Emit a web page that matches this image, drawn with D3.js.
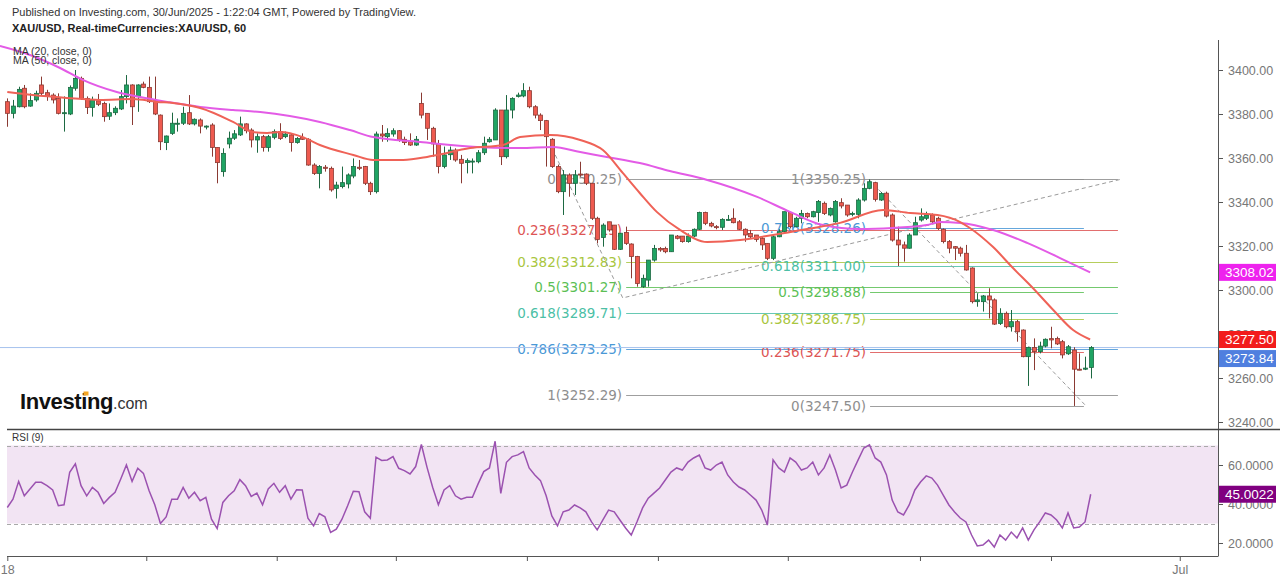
<!DOCTYPE html>
<html>
<head>
<meta charset="utf-8">
<title>XAU/USD, 60</title>
<script src="https://cdnjs.cloudflare.com/ajax/libs/d3/7.8.5/d3.min.js"></script>
<style>
body { margin: 0; background: #fff; }
svg { display: block; font-family: "Liberation Sans", Arial, sans-serif; }
.fib { font-family: "DejaVu Sans", Verdana, sans-serif; font-size: 13.5px; }
.axis text { fill: #777; font-size: 12.5px; font-family: "Liberation Sans", Arial, sans-serif; }
.axis line { stroke: #555; }
.tag { fill: #fff; font-size: 13.5px; }
</style>
</head>
<body>
<div id="chart"></div>
<script>

// hourly candles, [open, high, low, close]
var candles = [
[3385.6,3387.1,3374.2,3380.3],[3380.3,3386.4,3378.0,3383.6],[3383.3,3392.4,3383.0,3391.2],[3391.7,3393.2,3382.6,3383.3],
[3383.6,3389.4,3383.3,3386.1],[3386.4,3390.6,3385.6,3389.4],[3393.2,3397.0,3388.6,3389.4],[3389.7,3391.0,3386.0,3388.2],
[3388.6,3389.4,3384.8,3386.4],[3387.1,3389.4,3379.8,3380.3],[3380.3,3388.0,3372.0,3380.6],[3380.0,3393.0,3379.5,3392.1],
[3391.7,3400.0,3390.6,3396.2],[3396.2,3397.0,3386.4,3387.1],[3387.1,3388.0,3380.0,3383.0],[3383.0,3387.9,3378.8,3386.4],
[3386.0,3389.1,3383.6,3384.4],[3384.8,3385.6,3376.5,3378.8],[3379.0,3384.8,3377.3,3380.6],[3380.6,3383.5,3379.5,3382.6],
[3382.3,3390.9,3381.8,3387.9],[3387.9,3397.7,3384.8,3393.2],[3393.2,3393.5,3375.0,3383.3],[3387.9,3393.5,3381.0,3393.2],
[3393.6,3394.7,3391.7,3392.1],[3392.1,3397.0,3385.0,3385.6],[3386.0,3397.0,3379.5,3380.0],[3379.5,3379.8,3363.6,3367.4],
[3367.0,3370.2,3363.6,3370.0],[3371.2,3380.6,3370.5,3375.8],[3375.5,3378.0,3372.0,3375.8],[3375.8,3383.3,3375.0,3380.3],
[3380.6,3388.6,3375.0,3375.5],[3375.5,3378.0,3374.8,3377.6],[3377.3,3378.0,3371.2,3374.5],[3374.2,3374.8,3373.0,3374.5],
[3375.0,3375.8,3360.6,3364.8],[3364.8,3364.8,3348.5,3357.9],[3353.8,3364.4,3351.5,3362.1],[3366.4,3372.0,3364.4,3369.0],
[3369.0,3372.7,3368.2,3371.0],[3370.5,3378.8,3370.0,3375.5],[3375.5,3375.8,3371.2,3372.4],[3372.7,3373.5,3364.8,3368.2],
[3368.2,3371.2,3362.4,3369.7],[3369.7,3370.5,3362.9,3364.8],[3364.8,3370.5,3362.9,3369.7],[3369.4,3373.0,3368.5,3372.0],
[3372.0,3375.8,3368.2,3368.9],[3369.7,3372.0,3369.0,3370.9],[3370.5,3371.2,3362.9,3367.0],[3367.0,3369.5,3366.5,3368.9],
[3369.4,3371.2,3368.2,3368.5],[3368.5,3369.0,3356.5,3356.8],[3356.8,3357.6,3352.3,3353.0],[3353.0,3356.8,3346.2,3356.1],
[3355.8,3356.8,3353.8,3355.3],[3355.3,3356.1,3344.7,3345.5],[3346.2,3349.2,3341.6,3347.7],[3347.0,3356.1,3346.2,3348.8],
[3348.2,3353.0,3346.2,3352.3],[3351.8,3359.8,3350.8,3356.1],[3355.8,3359.1,3354.5,3355.3],[3356.1,3356.4,3347.7,3348.5],
[3348.5,3349.2,3343.2,3344.7],[3344.7,3372.0,3343.9,3370.9],[3370.9,3375.0,3367.4,3370.0],[3369.7,3373.5,3367.4,3371.2],
[3370.9,3373.5,3369.7,3372.4],[3372.4,3372.7,3367.4,3368.2],[3368.5,3369.7,3365.9,3367.0],[3367.4,3371.2,3365.5,3365.9],
[3365.9,3370.0,3365.5,3368.5],[3384.8,3389.7,3378.0,3379.5],[3380.3,3380.3,3368.2,3373.5],[3373.5,3374.2,3360.6,3366.4],
[3366.4,3368.2,3353.0,3356.1],[3356.1,3365.2,3355.3,3361.4],[3361.5,3365.2,3359.1,3363.6],[3363.6,3364.4,3358.3,3359.1],
[3359.4,3361.4,3348.5,3357.6],[3357.9,3359.8,3353.0,3358.8],[3358.2,3359.8,3353.0,3358.6],[3358.3,3363.6,3357.6,3362.4],
[3362.4,3369.7,3361.4,3366.7],[3367.4,3369.5,3367.0,3368.5],[3368.2,3382.6,3368.2,3381.8],[3381.8,3381.8,3356.8,3360.6],
[3360.6,3388.6,3359.8,3381.8],[3381.8,3387.6,3378.0,3387.1],[3388.0,3389.7,3387.5,3388.6],[3388.2,3394.0,3387.6,3390.6],
[3390.6,3392.4,3382.6,3383.3],[3383.3,3384.0,3378.0,3379.5],[3379.5,3380.3,3372.7,3377.0],[3377.0,3377.3,3356.1,3369.7],
[3368.5,3369.0,3355.5,3356.1],[3356.1,3357.0,3344.0,3344.7],[3344.7,3354.5,3334.1,3352.3],[3352.3,3353.0,3342.4,3348.5],
[3348.5,3354.5,3343.2,3352.3],[3352.7,3358.3,3351.5,3352.3],[3352.7,3353.0,3347.7,3348.5],[3348.5,3348.5,3331.8,3332.6],
[3332.6,3333.3,3321.2,3323.0],[3323.9,3330.3,3319.7,3329.5],[3331.0,3331.0,3326.5,3327.3],[3329.5,3329.5,3318.2,3318.5],
[3318.5,3326.0,3318.2,3325.8],[3326.1,3328.8,3320.5,3321.2],[3320.9,3321.2,3305.3,3315.2],[3315.2,3315.5,3301.5,3303.0],
[3301.5,3307.0,3301.0,3305.3],[3304.5,3313.6,3301.5,3313.6],[3313.6,3320.5,3312.9,3318.9],[3318.9,3319.5,3317.4,3318.2],
[3318.9,3319.7,3316.7,3317.4],[3317.4,3325.0,3317.4,3325.0],[3324.5,3325.0,3323.0,3323.5],[3324.5,3324.5,3321.5,3322.0],
[3322.0,3325.7,3321.5,3324.5],[3324.5,3328.0,3324.0,3327.6],[3327.6,3335.6,3327.3,3335.2],[3335.2,3335.6,3329.5,3330.3],
[3330.3,3331.0,3328.5,3329.1],[3328.8,3329.5,3327.6,3328.5],[3328.5,3332.6,3327.3,3332.1],[3331.8,3334.1,3331.5,3332.1],
[3332.6,3337.1,3330.3,3330.6],[3331.0,3331.8,3327.3,3327.6],[3327.6,3328.0,3321.9,3325.0],[3325.7,3327.3,3323.5,3324.2],
[3325.0,3325.0,3321.9,3323.0],[3323.5,3324.2,3318.2,3320.5],[3321.2,3321.2,3313.6,3314.4],[3314.4,3325.0,3313.6,3324.2],
[3324.2,3327.6,3324.0,3326.5],[3326.5,3335.6,3326.1,3335.6],[3335.2,3335.6,3328.0,3328.8],[3328.8,3333.3,3328.5,3332.6],
[3332.6,3336.4,3330.3,3334.8],[3334.8,3335.2,3332.6,3333.3],[3333.3,3336.0,3333.0,3335.6],[3335.2,3340.9,3331.0,3340.2],
[3339.4,3340.2,3334.1,3334.8],[3334.1,3337.5,3333.5,3337.1],[3331.0,3340.9,3330.6,3340.2],[3339.7,3341.7,3337.1,3338.2],
[3338.6,3338.6,3333.3,3334.1],[3334.4,3335.6,3333.5,3334.8],[3334.4,3341.7,3332.6,3340.9],[3340.9,3348.5,3340.2,3346.2],
[3346.2,3350.3,3345.8,3349.2],[3348.8,3349.2,3340.2,3341.2],[3340.9,3344.5,3340.5,3343.9],[3344.0,3344.7,3333.0,3333.6],
[3334.1,3334.8,3322.0,3322.7],[3322.7,3328.8,3310.9,3320.5],[3320.5,3322.0,3312.9,3319.0],[3319.0,3325.8,3318.8,3325.0],
[3325.0,3333.3,3325.0,3330.6],[3331.8,3337.1,3331.1,3333.3],[3332.6,3335.6,3331.8,3334.1],[3334.1,3334.8,3330.3,3331.0],
[3332.6,3333.3,3327.3,3328.0],[3327.6,3328.0,3321.2,3322.0],[3322.0,3322.7,3316.7,3319.0],[3319.7,3320.0,3313.6,3319.0],
[3319.0,3319.7,3315.2,3316.7],[3316.7,3320.5,3308.8,3309.1],[3310.0,3310.3,3293.9,3294.7],[3294.7,3298.5,3292.4,3295.5],
[3294.7,3297.7,3290.2,3297.3],[3297.3,3300.8,3287.1,3295.5],[3295.5,3296.2,3284.1,3284.5],[3284.8,3291.7,3284.1,3289.4],
[3289.4,3290.2,3282.6,3283.3],[3283.3,3290.9,3281.1,3285.6],[3285.6,3286.4,3276.5,3281.0],[3281.8,3282.1,3269.4,3269.7],
[3269.7,3274.2,3256.4,3273.9],[3273.9,3278.0,3263.6,3272.0],[3272.0,3276.5,3271.2,3274.5],[3274.5,3278.0,3273.9,3277.6],
[3277.9,3283.3,3273.5,3277.3],[3278.0,3278.8,3275.0,3275.5],[3276.5,3277.3,3268.9,3270.5],[3271.0,3275.0,3270.5,3274.2],
[3272.7,3274.0,3247.3,3264.0],[3264.0,3271.2,3263.5,3263.8],[3264.0,3269.7,3263.6,3264.5],[3264.8,3274.5,3259.8,3273.84]
];

// moving averages as [candle index, price]
var ma20 = [[0,3390],[4.5,3388.6],[10.5,3387.3],[16.3,3386.4],[22.2,3386.8],[26.4,3385.5],[29.2,3385],[34,3382.7],
  [39.8,3376.4],[43.3,3371.8],[45.8,3371.4],[48.1,3371.8],[52.1,3369.5],[55.1,3365.9],[61,3361.4],[64.5,3359.1],
  [69.8,3359.1],[74,3360.5],[75.8,3361.4],[81.6,3364.5],[87.4,3365.9],[90.4,3369.5],[95.7,3370.5],[101,3368.2],
  [105,3363.6],[108.5,3353.2],[111.5,3344.1],[114.5,3335.5],[118.6,3327.3],[123.4,3321.8],[129.2,3322.7],[135,3325],
  [141,3327.7],[146.8,3330.5],[154.4,3336.4],[159.2,3335],[164,3334.1],[168,3330.9],[169.7,3328.2],[173.8,3319.5],
  [177.3,3310],[180.8,3300.9],[184.4,3290.9],[187.9,3281.8],[190.9,3277.5]];
var ma50 = [[-1.3,3410.9],[4,3406.8],[9.3,3400.9],[13.3,3395.5],[19.3,3390],[23.4,3387.7],[28.2,3385.5],[34,3383.2],
  [39.8,3381.8],[44.6,3380.9],[49.8,3379.1],[55.1,3376.4],[60.4,3372.7],[64.5,3369.5],[72.8,3367.3],[82.8,3365],
  [90.4,3364.5],[96.2,3365],[101,3362.7],[105.7,3360.5],[111.5,3357.7],[116.8,3354.1],[123.4,3350],[132.2,3342.3],
  [138,3335.5],[143.8,3329.5],[150.3,3327.7],[156.1,3328.2],[162.1,3329.5],[164.4,3330.9],[168,3330.5],[173.8,3327.3],
  [179.8,3321.4],[185.6,3314.5],[190.9,3308.02]];

// RSI (9), one value per candle
var rsi = [38.2,42.5,51.6,44.2,47.7,51.1,51.1,49.4,47.2,39.1,39.6,56.3,60.6,49.4,44.2,48.5,46,40.3,43.4,46,
  52.8,60,51.6,58.3,55.7,46.8,39.6,30,33.4,42.5,42.5,48.5,43,46,41.7,43.4,32.2,27.4,40.8,44.2,
  46.8,52.5,49.4,43.9,45.6,39.6,47.7,50.6,46,49.4,42.5,47.3,47.2,32.7,28.8,35.1,33.4,25.4,27.1,32.2,
  39.1,46.5,46.3,36,32.7,64,62.3,62.6,64.3,58.3,57.1,55.4,59.2,70.5,58.8,48.5,39.6,47.2,49.4,44.2,
  42.5,43.4,43.4,50.3,56.6,58.5,72.2,45.4,61.4,64.3,65.2,66.9,58.5,54.9,52,44.2,33.9,28.8,36,
  36.9,39.5,38,36,30.8,26.7,31.8,36.9,36,31.8,27.7,24.1,30.8,38,43,45.6,48.2,52.3,56.4,58.5,
  57.4,61.5,63.6,65.1,58.5,57.4,60,61.5,54.9,51.3,48.7,47.2,44.6,42,36.9,29.2,62.6,58.5,56.4,63.6,
  61.5,57.4,58.5,61.5,54.9,58.5,65.1,57.4,48.2,49.7,56.4,62.6,68.7,70.3,63.6,61.5,54.9,42,35.9,34.4,
  39.5,47.2,51.3,54.4,53.3,49.7,44.6,39.5,35.9,32.8,30.8,24.1,18.5,19,21.5,17.9,24.1,21.5,25.6,22.6,
  27.7,21.5,26.7,30.8,35.4,34.4,31.8,27.7,35.4,27.7,28.2,30.8,45.0022];

// fibonacci drawings
var fib1Names = ["0", "0.236", "0.382", "0.5", "0.618", "0.786", "1"];
var fib1Prices = [3350.25, 3327.13, 3312.83, 3301.27, 3289.71, 3273.25, 3252.29];
var fib1Span = [109.1, 195.8];
var fib2Names = ["1", "0.786", "0.618", "0.5", "0.382", "0.236", "0"];
var fib2Prices = [3350.25, 3328.26, 3311.00, 3298.88, 3286.75, 3271.75, 3247.50];
var fib2Span = [152.1, 189.8];
var trend1 = [[96.6, 3361.4], [108.5, 3296.4], [196.2, 3350.25]];
var trend2 = [[151.9, 3350.25], [190.1, 3247.5]];

var priceTicks = [3240, 3260, 3280, 3300, 3320, 3340, 3360, 3380, 3400];
var rsiTicks = [20, 40, 60];
var rsiBand = [30, 70];
var timeTicks = [0, 24.5, 47.5, 68.5, 91.6, 114.7, 137.6, 160.9, 184, 206.7];
var timeLabels = ["18", "", "", "", "", "", "", "", "", "Jul"];
var lastPrice = 3273.84;
var tagValues = [3308.02, 3277.50, 3273.84];
var rsiLast = 45.0022;

// colours
var fibColors = { "0": "#8e8e8e", "1": "#8e8e8e", "0.236": "#dd5555", "0.382": "#a9c640",
  "0.5": "#5cbf55", "0.618": "#4cbfa6", "0.786": "#4a98d6" };
var upFill = "#1fa463", upLine = "#1d6942";
var downFill = "#ee5a4f", downLine = "#8a3a33";
var tagColors = ["#ee22ee", "#f21c1c", "#4f7fdf"];

var width = 1280, height = 580, axisX = 1218;

var svg = d3.select("#chart").append("svg").attr("width", width).attr("height", height);

var x = d3.scaleLinear().domain([0, candles.length - 1]).range([7.3, 1090.7]);
var y = d3.scaleLinear().domain([3240, 3400]).range([422, 70]);
var ry = d3.scaleLinear().domain([20, 60]).range([543, 465]);

/*** header ***/
svg.append("text").attr("x", 12).attr("y", 16).attr("font-size", 11).attr("fill", "#333")
  .text("Published on Investing.com, 30/Jun/2025 - 1:22:04 GMT, Powered by TradingView.");
svg.append("text").attr("x", 12).attr("y", 32).attr("font-size", 11).attr("font-weight", "bold").attr("fill", "#222")
  .text("XAU/USD, Real-timeCurrencies:XAU/USD, 60");

/*** main panel ***/
svg.append("clipPath").attr("id", "mainClip").append("rect")
  .attr("x", 0).attr("y", 40).attr("width", axisX).attr("height", 389);
var main = svg.append("g").attr("clip-path", "url(#mainClip)");

// logo
var logo = svg.append("text").attr("x", 20).attr("y", 409);
logo.append("tspan").attr("font-size", 22).attr("font-weight", "bold").attr("fill", "#111")
  .attr("letter-spacing", -0.4).text("Investing");
logo.append("tspan").attr("font-size", 16).attr("fill", "#333").text(".com");
svg.append("rect").attr("x", 83.5).attr("y", 391.5).attr("width", 5).attr("height", 4).attr("fill", "#f5a623");

// fib levels (under the candles)
function drawFib(names, prices, span) {
  prices.forEach(function (p, k) {
    var c = fibColors[names[k]];
    var yy = Math.round(y(p)) + 0.5;
    main.append("line").attr("x1", x(span[0])).attr("x2", x(span[1]))
      .attr("y1", yy).attr("y2", yy).attr("stroke", c).attr("stroke-opacity", 0.85);
    main.append("text").attr("class", "fib").attr("x", x(span[0]) - 4).attr("y", y(p))
      .attr("text-anchor", "end").attr("dominant-baseline", "central").attr("fill", c)
      .text(names[k] + "(" + p.toFixed(2) + ")");
  });
}
drawFib(fib1Names, fib1Prices, fib1Span);
drawFib(fib2Names, fib2Prices, fib2Span);

var trendLine = d3.line().x(function (d) { return x(d[0]); }).y(function (d) { return y(d[1]); });
[trend1, trend2].forEach(function (t) {
  main.append("path").attr("d", trendLine(t)).attr("fill", "none")
    .attr("stroke", "#9a9a9a").attr("stroke-dasharray", "4,3");
});

// last price line
main.append("line").attr("x1", 0).attr("x2", axisX)
  .attr("y1", y(lastPrice)).attr("y2", y(lastPrice))
  .attr("stroke", "#a6c3ee").attr("stroke-width", 1);

// candles
var cg = main.append("g").selectAll("g").data(candles).join("g");
cg.append("line")
  .attr("x1", function (d, i) { return Math.round(x(i)) + 0.5; })
  .attr("x2", function (d, i) { return Math.round(x(i)) + 0.5; })
  .attr("y1", function (d) { return y(d[1]); })
  .attr("y2", function (d) { return y(d[2]); })
  .attr("stroke", function (d) { return d[3] >= d[0] ? upLine : downLine; });
cg.append("rect")
  .attr("x", function (d, i) { return Math.round(x(i)) - 1.5; })
  .attr("width", 4)
  .attr("y", function (d) { return y(Math.max(d[0], d[3])); })
  .attr("height", function (d) { return Math.max(1, Math.abs(y(d[0]) - y(d[3]))); })
  .attr("fill", function (d) { return d[3] >= d[0] ? upFill : downFill; })
  .attr("stroke", function (d) { return d[3] >= d[0] ? upLine : downLine; })
  .attr("stroke-width", 0.8);

// moving averages
var maLine = d3.line().curve(d3.curveMonotoneX)
  .x(function (d) { return x(d[0]); }).y(function (d) { return y(d[1]); });
main.append("path").attr("d", maLine(ma50)).attr("fill", "none")
  .attr("stroke", "#e35be6").attr("stroke-width", 2);
main.append("path").attr("d", maLine(ma20)).attr("fill", "none")
  .attr("stroke", "#ef6257").attr("stroke-width", 2);

svg.append("text").attr("x", 13).attr("y", 55).attr("font-size", 10.5).attr("fill", "#333").text("MA (20, close, 0)");
svg.append("text").attr("x", 13).attr("y", 64).attr("font-size", 10.5).attr("fill", "#333").text("MA (50, close, 0)");

/*** RSI panel ***/
svg.append("rect").attr("x", 7).attr("width", axisX - 7)
  .attr("y", ry(rsiBand[1])).attr("height", ry(rsiBand[0]) - ry(rsiBand[1]))
  .attr("fill", "#f2e4f3");
rsiBand.forEach(function (v) {
  svg.append("line").attr("x1", 7).attr("x2", axisX)
    .attr("y1", Math.round(ry(v)) + 0.5).attr("y2", Math.round(ry(v)) + 0.5)
    .attr("stroke", "#a9a9a9").attr("stroke-dasharray", "4,3");
});
svg.append("path")
  .attr("d", d3.line().x(function (d, i) { return x(i); }).y(function (d) { return ry(d); })(rsi))
  .attr("fill", "none").attr("stroke", "#9b52b0").attr("stroke-width", 1.5);
svg.append("text").attr("x", 12).attr("y", 441).attr("font-size", 10).attr("fill", "#333").text("RSI (9)");

/*** axes and frame ***/
var priceAxis = svg.append("g").attr("class", "axis").attr("transform", "translate(" + axisX + ",0)")
  .call(d3.axisRight(y).tickValues(priceTicks).tickSize(5).tickPadding(5).tickFormat(d3.format(".2f")));
priceAxis.select(".domain").remove();
var rsiAxis = svg.append("g").attr("class", "axis").attr("transform", "translate(" + axisX + ",0)")
  .call(d3.axisRight(ry).tickValues(rsiTicks).tickSize(5).tickPadding(5).tickFormat(d3.format(".4f")));
rsiAxis.select(".domain").remove();
var timeAxis = svg.append("g").attr("class", "axis").attr("transform", "translate(0,556)")
  .call(d3.axisBottom(x).tickValues(timeTicks).tickSize(5).tickPadding(4)
    .tickFormat(function (d, i) { return timeLabels[i]; }));
timeAxis.select(".domain").remove();
timeAxis.selectAll("text").attr("fill", "#555");

svg.append("line").attr("x1", axisX + 0.5).attr("x2", axisX + 0.5).attr("y1", 40).attr("y2", 556)
  .attr("stroke", "#555");
svg.append("line").attr("x1", 7).attr("x2", axisX + 0.5).attr("y1", 556.5).attr("y2", 556.5)
  .attr("stroke", "#555");
svg.append("line").attr("x1", 7).attr("x2", width).attr("y1", 429.5).attr("y2", 429.5)
  .attr("stroke", "#444").attr("stroke-width", 1.5);

// value tags on the price scale
function tag(v, yy, color, fmt) {
  svg.append("rect").attr("x", axisX + 1).attr("y", yy - 8.5).attr("width", 57).attr("height", 17)
    .attr("fill", color);
  svg.append("text").attr("class", "tag").attr("x", axisX + 7).attr("y", yy)
    .attr("dominant-baseline", "central").text(fmt(v));
}
tag(tagValues[0], y(tagValues[0]), tagColors[0], d3.format(".2f"));
tag(tagValues[1], y(tagValues[1]), tagColors[1], d3.format(".2f"));
tag(tagValues[2], y(tagValues[2]) + 11, tagColors[2], d3.format(".2f"));
tag(rsiLast, ry(rsiLast), "#800080", d3.format(".4f"));

</script>
</body>
</html>
